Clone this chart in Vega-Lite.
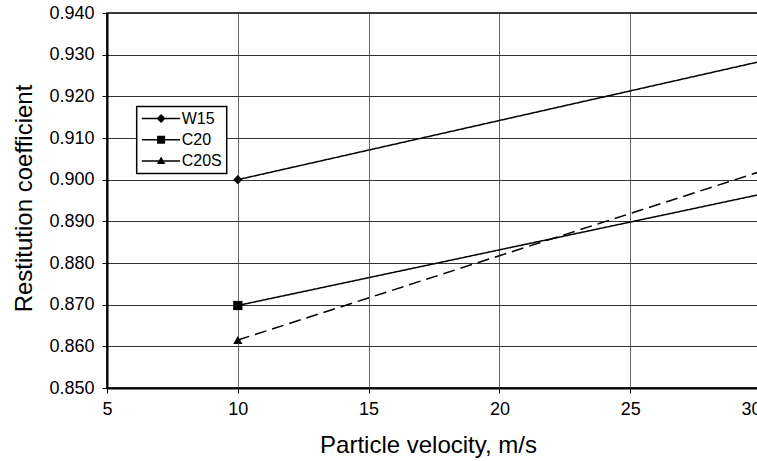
{
  "$schema": "https://vega.github.io/schema/vega-lite/v6.json",
  "width": 654,
  "height": 375,
  "autosize": {"type": "none"},
  "padding": {"left": 107, "top": 13, "right": -4, "bottom": 73},
  "background": "white",
  "config": {
    "font": "Liberation Sans",
    "view": {"stroke": "black", "strokeWidth": 1.5},
    "legend": {"strokeWidth": 1.5}
  },
  "data": {
    "values": [
      {"series": "W15", "v": 10, "r": 0.9},
      {"series": "W15", "v": 30, "r": 0.9284},
      {"series": "C20", "v": 10, "r": 0.8698},
      {"series": "C20", "v": 30, "r": 0.8965},
      {"series": "C20S", "v": 10, "r": 0.8615},
      {"series": "C20S", "v": 30, "r": 0.902}
    ]
  },
  "resolve": {"scale": {"shape": "independent"}, "legend": {"shape": "independent"}},
  "layer": [
    {
      "mark": {"type": "line", "clip": true, "color": "black", "strokeWidth": 1.5},
      "encoding": {
        "x": {
          "field": "v",
          "type": "quantitative",
          "scale": {"domain": [5, 30], "nice": false, "zero": false},
          "axis": {
            "title": "Particle velocity, m/s",
            "values": [5, 10, 15, 20, 25, 30],
            "grid": true,
            "gridColor": "#666666",
            "gridWidth": 1,
            "gridOpacity": 1,
            "domainColor": "black",
            "domainWidth": 2,
            "tickColor": "black",
            "tickSize": 5,
            "tickWidth": 1,
            "labelFontSize": 18,
            "labelColor": "black",
            "labelPadding": 7,
            "labelFlush": false,
            "labelOverlap": false,
            "labelBound": false,
            "labelAlign": {"condition": {"test": "datum.value == 30", "value": "right"}, "value": "center"},
            "titleFontSize": 24,
            "titleFontWeight": "normal",
            "titleColor": "black",
            "titleX": 321,
            "titleY": 64,
            "titleAlign": "center",
            "titleBaseline": "alphabetic"
          }
        },
        "y": {
          "field": "r",
          "type": "quantitative",
          "scale": {"domain": [0.85, 0.94], "nice": false, "zero": false},
          "axis": {
            "title": "Restitution coefficient",
            "values": [0.85, 0.86, 0.87, 0.88, 0.89, 0.9, 0.91, 0.92, 0.93, 0.94],
            "format": ".3f",
            "grid": true,
            "gridColor": "#333333",
            "gridWidth": 1,
            "gridOpacity": 1,
            "domainColor": "black",
            "domainWidth": 2,
            "tickColor": "black",
            "tickSize": 5,
            "tickWidth": 1,
            "labelFontSize": 18,
            "labelColor": "black",
            "labelPadding": 8,
            "labelOverlap": false,
            "labelBound": false,
            "labelFlush": false,
            "titleFontSize": 24,
            "titleFontWeight": "normal",
            "titleColor": "black",
            "titleAngle": -90,
            "titleX": -76,
            "titleY": 185,
            "titleAlign": "center",
            "titleBaseline": "alphabetic"
          }
        },
        "detail": {"field": "series", "type": "nominal"},
        "strokeDash": {
          "field": "series",
          "type": "nominal",
          "scale": {"domain": ["W15", "C20", "C20S"], "range": [[1, 0], [1, 0], [12, 6]]},
          "legend": null
        }
      }
    },
    {
      "transform": [{"filter": "datum.v == 10"}],
      "mark": {"type": "point", "filled": true, "color": "black", "opacity": 1, "size": 85},
      "encoding": {
        "x": {"field": "v", "type": "quantitative"},
        "y": {"field": "r", "type": "quantitative"},
        "shape": {
          "field": "series",
          "type": "nominal",
          "scale": {"domain": ["W15", "C20", "C20S"], "range": ["diamond", "square", "triangle-up"]},
          "legend": null
        }
      }
    },
    {
      "transform": [{"filter": "datum.v == 10"}],
      "mark": {"type": "point", "filled": true, "color": "black", "opacity": 0, "size": 64},
      "encoding": {
        "x": {"field": "v", "type": "quantitative"},
        "y": {"field": "r", "type": "quantitative"},
        "shape": {
          "field": "series",
          "type": "nominal",
          "scale": {
            "domain": ["W15", "C20", "C20S"],
            "range": [
              "M-1.72,-0.19H7.85V0.19H-1.72ZM3.1,-1.15L4.25,0L3.1,1.15L1.95,0Z",
              "M-1.72,-0.19H7.85V0.19H-1.72ZM2.1,-1H4.1V1H2.1Z",
              "M-1.72,-0.19H7.85V0.19H-1.72ZM3.1,-1.1L4.15,0.75L2.05,0.75Z"
            ]
          },
          "legend": {
            "orient": "none",
            "legendX": 29.7,
            "legendY": 93.5,
            "title": null,
            "padding": 4,
            "rowPadding": 5.2,
            "labelFontSize": 16,
            "labelFont": "Liberation Sans",
            "labelColor": "black",
            "labelOffset": 25,
            "symbolSize": 64,
            "symbolOpacity": 1,
            "symbolFillColor": "black",
            "symbolStrokeColor": "black",
            "symbolStrokeWidth": 0.5,
            "strokeColor": "black",
            "fillColor": "white"
          }
        }
      }
    }
  ]
}
